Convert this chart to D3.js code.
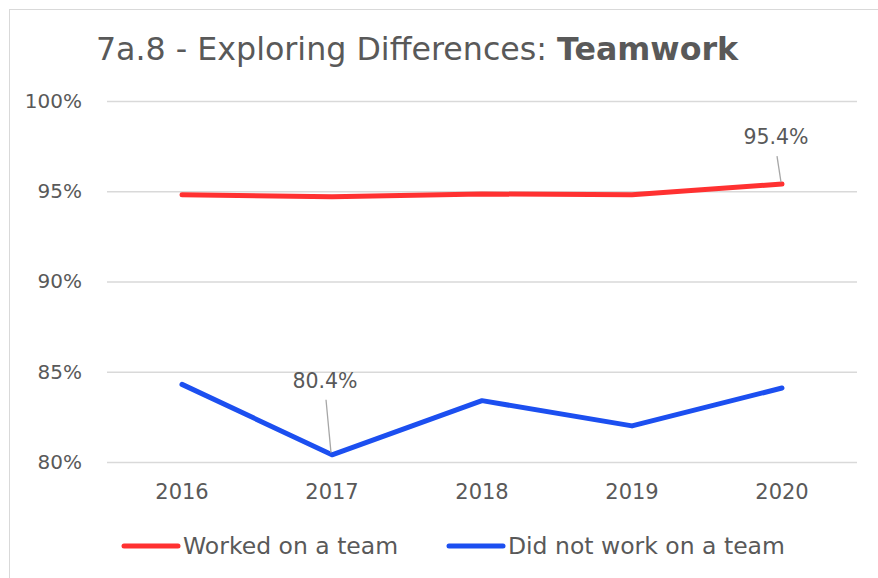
<!DOCTYPE html>
<html>
<head>
<meta charset="utf-8">
<script src="https://cdn.jsdelivr.net/npm/d3@7"></script>
<style>
  body { margin: 0; background: #fff; }
  svg text { font-family: "DejaVu Sans", sans-serif; fill: #595959; }
</style>
</head>
<body>
<div id="chart"></div>
<script>
const years = ["2016", "2017", "2018", "2019", "2020"];
const workedTeam = [94.8, 94.7, 94.85, 94.8, 95.4];
const notWorkedTeam = [84.3, 80.4, 83.4, 82.0, 84.1];
const yTicks = [80, 85, 90, 95, 100];
const seriesNames = ["Worked on a team", "Did not work on a team"];
const colors = ["#ff3131", "#1c4ff0"];

const width = 878;
const height = 578;
const plot = { left: 107, right: 857, top: 101, bottom: 462 };

const svg = d3.select("#chart").append("svg")
    .attr("width", width)
    .attr("height", height);

// chart frame (only top/left visible in picture)
svg.append("rect")
    .attr("x", 9.5).attr("y", 9.5)
    .attr("width", width + 20).attr("height", height + 20)
    .attr("fill", "#fff")
    .attr("stroke", "#d9d9d9");

const x = d3.scaleBand()
    .domain(years)
    .range([plot.left, plot.right]);

const y = d3.scaleLinear()
    .domain([80, 100])
    .range([plot.bottom, plot.top]);

// gridlines
svg.append("g")
    .attr("transform", `translate(${plot.left},0)`)
    .call(d3.axisLeft(y).tickValues(yTicks).tickSize(-(plot.right - plot.left)).tickFormat(""))
    .call(g => g.select(".domain").remove())
    .call(g => g.selectAll("line").attr("stroke", "#d9d9d9").attr("stroke-width", 1.3));

// y labels
svg.append("g")
    .attr("transform", `translate(${plot.left},0)`)
    .call(d3.axisLeft(y).tickValues(yTicks).tickSize(0).tickPadding(25).tickFormat(d => d + "%"))
    .call(g => g.select(".domain").remove())
    .call(g => g.selectAll("text").attr("font-size", 20).style("font-family", null).attr("fill", "#595959"));

// x labels
svg.append("g")
    .attr("transform", `translate(0,${plot.bottom})`)
    .call(d3.axisBottom(x).tickSize(0).tickPadding(22))
    .call(g => g.select(".domain").remove())
    .call(g => g.selectAll("text").attr("font-size", 21).style("font-family", null).attr("fill", "#595959"));

const line = d3.line()
    .x((d, i) => x(years[i]) + x.bandwidth() / 2)
    .y(d => y(d));

[workedTeam, notWorkedTeam].forEach((s, k) => {
    svg.append("path")
        .datum(s)
        .attr("fill", "none")
        .attr("stroke", colors[k])
        .attr("stroke-width", 5)
        .attr("stroke-linejoin", "round")
        .attr("stroke-linecap", "round")
        .attr("d", line);
});

// data labels with leader lines
const labels = [
    { series: workedTeam, i: 4, dx: -6, dy: -40 },
    { series: notWorkedTeam, i: 1, dx: -7, dy: -67 }
];
labels.forEach(l => {
    const px = x(years[l.i]) + x.bandwidth() / 2;
    const py = y(l.series[l.i]);
    svg.append("line")
        .attr("x1", px - 1).attr("y1", py - 2)
        .attr("x2", px + l.dx + 1).attr("y2", py + l.dy + 12)
        .attr("stroke", "#a6a6a6").attr("stroke-width", 1.3);
    svg.append("text")
        .attr("x", px + l.dx)
        .attr("y", py + l.dy)
        .attr("text-anchor", "middle")
        .attr("font-size", 20.5)
        .attr("fill", "#404040")
        .text(l.series[l.i].toFixed(1) + "%");
});

// title
const title = svg.append("text")
    .attr("x", 417).attr("y", 60)
    .attr("text-anchor", "middle")
    .attr("font-size", 31.7);
title.append("tspan").text("7a.8 - Exploring Differences: ");
title.append("tspan").attr("font-weight", "bold").text("Teamwork");

// legend
const legendX = [124, 449];
seriesNames.forEach((name, k) => {
    const g = svg.append("g").attr("transform", `translate(${legendX[k]},546)`);
    g.append("line")
        .attr("x1", 0).attr("x2", 54)
        .attr("stroke", colors[k]).attr("stroke-width", 5)
        .attr("stroke-linecap", "round");
    g.append("text")
        .attr("x", 59).attr("y", 8)
        .attr("font-size", 23.5)
        .text(name);
});
</script>
</body>
</html>
